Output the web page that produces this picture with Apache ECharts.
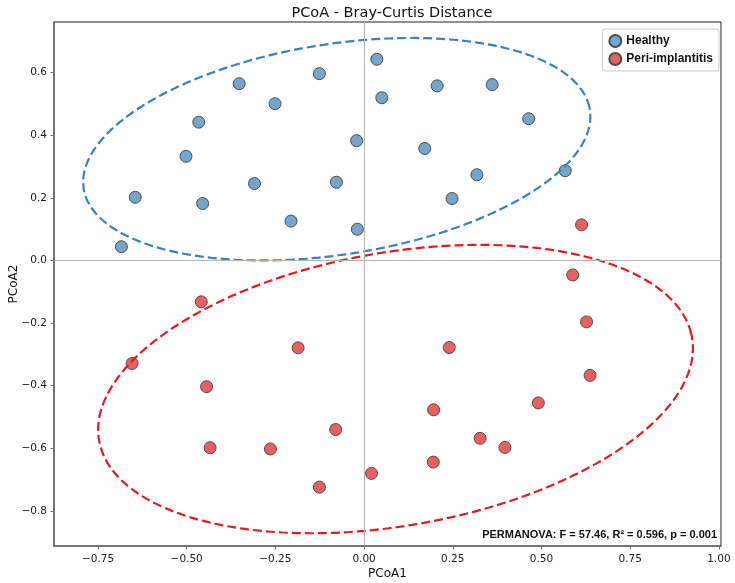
<!DOCTYPE html>
<html>
<head>
<meta charset="utf-8">
<script src="https://cdn.jsdelivr.net/npm/echarts@6/dist/echarts.min.js"></script>
<style>
html, body { margin: 0; padding: 0; background: #fff; }
#main { width: 735px; height: 583px; }
</style>
</head>
<body>
<div id="main"></div>
<script>
var myChart = echarts.init(document.getElementById('main'));

// PCoA coordinates
var healthyX = [0.036, -0.126, -0.352, -0.251, 0.050, -0.466, -0.021, -0.502, -0.309, -0.078, -0.645,
                -0.455, -0.206, -0.019, -0.684, 0.206, 0.361, 0.464, 0.171, 0.318, 0.248, 0.567];
var healthyY = [0.643, 0.597, 0.565, 0.501, 0.520, 0.442, 0.383, 0.333, 0.246, 0.250, 0.202,
                0.182, 0.126, 0.100, 0.044, 0.558, 0.562, 0.453, 0.358, 0.274, 0.198, 0.287];
var periX = [-0.459, -0.654, -0.186, -0.444, -0.080, -0.434, -0.264, 0.021, -0.126, 0.613,
             0.588, 0.627, 0.240, 0.637, 0.491, 0.196, 0.327, 0.397, 0.195];
var periY = [-0.132, -0.329, -0.279, -0.403, -0.540, -0.598, -0.602, -0.680, -0.724, 0.114,
             -0.046, -0.196, -0.278, -0.367, -0.455, -0.477, -0.568, -0.597, -0.644];

var xTicks = [-0.75, -0.5, -0.25, 0, 0.25, 0.5, 0.75, 1.0];
var yTicks = [-0.8, -0.6, -0.4, -0.2, 0, 0.2, 0.4, 0.6];
var statText = 'PERMANOVA: F = 57.46, R\u00b2 = 0.596, p = 0.001';

function pairs(xs, ys) {
    var out = [];
    for (var k = 0; k < xs.length; k++) out.push([xs[k], ys[k]]);
    return out;
}

// 2-sigma covariance ellipse of a group (sample covariance)
function confEllipse(xs, ys, nStd) {
    var n = xs.length, mx = 0, my = 0;
    for (var k = 0; k < n; k++) { mx += xs[k]; my += ys[k]; }
    mx /= n; my /= n;
    var sxx = 0, syy = 0, sxy = 0;
    for (k = 0; k < n; k++) {
        sxx += (xs[k] - mx) * (xs[k] - mx);
        syy += (ys[k] - my) * (ys[k] - my);
        sxy += (xs[k] - mx) * (ys[k] - my);
    }
    sxx /= (n - 1); syy /= (n - 1); sxy /= (n - 1);
    var half = (sxx + syy) / 2;
    var d = Math.sqrt((sxx - syy) * (sxx - syy) / 4 + sxy * sxy);
    var r1 = nStd * Math.sqrt(half + d), r2 = nStd * Math.sqrt(half - d);
    var th = 0.5 * Math.atan2(2 * sxy, sxx - syy);
    var pts = [];
    for (var i = 0; i <= 240; i++) {
        var t = i / 240 * Math.PI * 2;
        var u = r1 * Math.cos(t), v = r2 * Math.sin(t);
        pts.push([mx + u * Math.cos(th) - v * Math.sin(th), my + u * Math.sin(th) + v * Math.cos(th)]);
    }
    return pts;
}

function fmt(dec) {
    return function (v) {
        var s = Math.abs(v) < 1e-9 ? (0).toFixed(dec) : v.toFixed(dec);
        return s.replace('-', '\u2212');
    };
}

var tickFont = { fontFamily: 'DejaVu Sans', fontSize: 10.5, color: '#1a1a1a' };

var option = {
    animation: false,
    title: {
        text: 'PCoA - Bray-Curtis Distance',
        left: 387, top: 1, textAlign: 'center',
        textStyle: { fontFamily: 'DejaVu Sans', fontSize: 14.5, fontWeight: 'normal', color: '#111' }
    },
    grid: {
        left: 54, right: 14, top: 22, bottom: 37,
        show: true, borderColor: '#222', borderWidth: 1,
        outerBoundsMode: 'none'
    },
    legend: {
        data: ['Healthy', 'Peri-implantitis'],
        orient: 'vertical', right: 16, top: 29,
        icon: 'circle', itemWidth: 12, itemHeight: 12, itemGap: 4,
        padding: [5, 6, 5, 6],
        borderColor: '#cccccc', borderWidth: 1, borderRadius: 3,
        backgroundColor: 'rgba(255,255,255,0.85)',
        textStyle: { fontFamily: 'Liberation Sans, Arial', fontWeight: 'bold', fontSize: 12, color: '#111' }
    },
    xAxis: {
        type: 'value', min: -0.874, max: 1.006,
        name: 'PCoA1', nameLocation: 'middle', nameGap: 22, nameMoveOverlap: false,
        nameTextStyle: { fontFamily: 'DejaVu Sans', fontSize: 12, color: '#111' },
        axisLine: { onZero: false, lineStyle: { color: '#6e6e6e', width: 1.6 } },
        axisTick: { show: true, length: 3.5, lineStyle: { color: '#6e6e6e' }, customValues: xTicks },
        axisLabel: Object.assign({ margin: 8, formatter: fmt(2), customValues: xTicks }, tickFont),
        splitLine: { show: false }
    },
    yAxis: {
        type: 'value', min: -0.912, max: 0.762,
        name: 'PCoA2', nameLocation: 'middle', nameGap: 34, nameMoveOverlap: false,
        nameTextStyle: { fontFamily: 'DejaVu Sans', fontSize: 12, color: '#111' },
        axisLine: { show: true, onZero: false, lineStyle: { color: '#6e6e6e', width: 1.6 } },
        axisTick: { show: true, length: 3.5, lineStyle: { color: '#6e6e6e' }, customValues: yTicks },
        axisLabel: Object.assign({ margin: 7, formatter: fmt(1), customValues: yTicks }, tickFont),
        splitLine: { show: false }
    },
    graphic: [{
        type: 'text', right: 18, top: 529, z: 10,
        style: { text: statText, font: 'bold 11px "Liberation Sans", Arial', fill: '#111' }
    }],
    series: [
        {
            name: 'zero', type: 'line', data: [], z: 1, silent: true,
            markLine: {
                silent: true, symbol: 'none', label: { show: false },
                lineStyle: { color: '#b4b4b4', type: 'solid', width: 1 },
                data: [{ xAxis: 0 }, { yAxis: 0 }]
            }
        },
        {
            name: 'Healthy', type: 'scatter', z: 3,
            data: pairs(healthyX, healthyY), symbolSize: 12,
            itemStyle: { color: '#73a5cd', borderColor: '#4c4c4c', borderWidth: 1, opacity: 1 }
        },
        {
            name: 'Peri-implantitis', type: 'scatter', z: 3,
            data: pairs(periX, periY), symbolSize: 12,
            itemStyle: { color: '#ec5f60', borderColor: '#4c4c4c', borderWidth: 1, opacity: 1 }
        },
        {
            name: 'Healthy ellipse', type: 'line', z: 4, silent: true,
            data: confEllipse(healthyX, healthyY, 2), showSymbol: false, smooth: false,
            lineStyle: { color: '#3582c4', width: 2.2, type: [9, 4] }
        },
        {
            name: 'Peri ellipse', type: 'line', z: 4, silent: true,
            data: confEllipse(periX, periY, 2), showSymbol: false, smooth: false,
            lineStyle: { color: '#e41a1c', width: 2.2, type: [9, 4] }
        }
    ]
};
myChart.setOption(option);
</script>
</body>
</html>
